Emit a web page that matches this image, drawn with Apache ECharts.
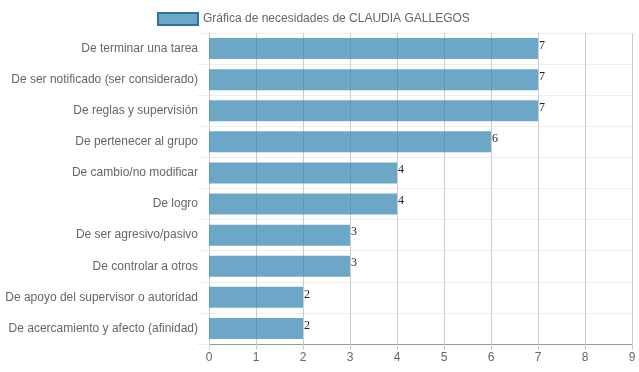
<!DOCTYPE html>
<html>
<head>
<meta charset="utf-8">
<script src="https://cdn.jsdelivr.net/npm/echarts@6/dist/echarts.min.js"></script>
<style>html,body{margin:0;padding:0;background:#fff;}#c{width:639px;height:372px;}</style>
</head>
<body>
<div id="c"></div>
<script>
var categories = [
  "De terminar una tarea",
  "De ser notificado (ser considerado)",
  "De reglas y supervisión",
  "De pertenecer al grupo",
  "De cambio/no modificar",
  "De logro",
  "De ser agresivo/pasivo",
  "De controlar a otros",
  "De apoyo del supervisor o autoridad",
  "De acercamiento y afecto (afinidad)"
];
var values = [7, 7, 7, 6, 4, 4, 3, 3, 2, 2];
var seriesName = "Gráfica de necesidades de CLAUDIA GALLEGOS";
var xTicks = {min: 0, max: 9, interval: 1};

var chart = echarts.init(document.getElementById('c'), null, {renderer: 'canvas'});
chart.setOption({
  animation: false,
  textStyle: {fontFamily: 'Liberation Sans, Arial, sans-serif'},
  legend: {
    top: 7,
    left: 152,
    icon: 'rect',
    itemWidth: 40,
    itemHeight: 12,
    itemGap: 6,
    textStyle: {color: '#666', fontSize: 12},
    data: [{name: seriesName, itemStyle: {color: 'rgba(54,135,178,0.73)', borderColor: 'rgb(45,115,160)', borderWidth: 2}}]
  },
  grid: {left: 209, right: 7, top: 33, bottom: 28, containLabel: false},
  xAxis: {
    type: 'value',
    min: xTicks.min, max: xTicks.max, interval: xTicks.interval,
    axisLine: {show: true, lineStyle: {color: '#999', width: 1}},
    axisTick: {show: true, length: 6, lineStyle: {color: '#ccc'}},
    axisLabel: {color: '#666', fontSize: 12, margin: 8},
    splitLine: {show: true, lineStyle: {color: '#ccc', width: 1}}
  },
  yAxis: {
    type: 'category',
    inverse: true,
    data: categories,
    axisLine: {show: false},
    axisTick: {show: true, length: 11, lineStyle: {color: '#eee'}},
    axisLabel: {color: '#666', fontSize: 12, margin: 11},
    splitLine: {show: true, lineStyle: {color: '#eee', width: 1}}
  },
  series: [{
    name: seriesName,
    type: 'bar',
    data: values,
    barWidth: 21,
    itemStyle: {color: 'rgba(54,135,178,0.73)'},
    label: {
      show: true,
      position: 'right',
      distance: 1,
      offset: [0, -3],
      color: '#222',
      fontSize: 12,
      fontFamily: 'Liberation Serif, Times New Roman, serif'
    }
  }]
});
</script>
</body>
</html>
